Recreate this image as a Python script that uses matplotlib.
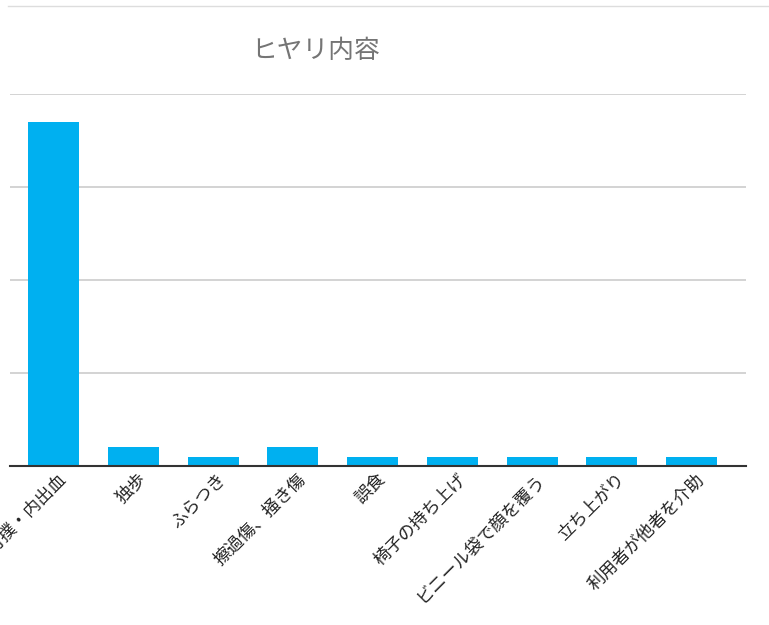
import matplotlib
matplotlib.use("Agg")
import matplotlib.pyplot as plt
import matplotlib.transforms as mtransforms
from matplotlib.lines import Line2D

plt.rcParams['font.family'] = ['Noto Sans CJK JP', 'DejaVu Sans']

categories = ['打撲・内出血', '独歩', 'ふらつき', '擦過傷、掻き傷', '誤食',
              '椅子の持ち上げ', 'ビニール袋で顔を覆う', '立ち上がり', '利用者が他者を介助']
counts = [37, 2, 1, 2, 1, 1, 1, 1, 1]
y_ticks = [0, 10, 20, 30, 40]

W, H = 769, 625
fig = plt.figure(figsize=(W / 100, H / 100), dpi=100)
ax = fig.add_axes([10 / W, 1 - 466 / H, (746 - 10) / W, (466 - 94) / H])

x = range(len(categories))
ax.bar(x, counts, width=0.64, color='#00B0F0', zorder=3)

ax.set_xlim(-0.545, 8.68)
ax.set_ylim(0, 40)
ax.set_yticks(y_ticks)
ax.yaxis.grid(True, color='#cccccc', linewidth=1.2, zorder=0)
ax.tick_params(axis='y', length=0, labelleft=False)
ax.tick_params(axis='x', length=0, pad=3)
ax.set_xticks(list(x))
ax.set_xticklabels(categories, rotation=45, ha='right', rotation_mode='anchor',
                   fontsize=12.5, color='#222222')
# nudge labels a bit to the right, like the original
shift = mtransforms.ScaledTranslation(4 / 100, 0, fig.dpi_scale_trans)
for lbl in ax.get_xticklabels():
    lbl.set_transform(lbl.get_transform() + shift)

for s in ['top', 'right', 'left']:
    ax.spines[s].set_visible(False)
ax.spines['bottom'].set_color('#333333')
ax.spines['bottom'].set_linewidth(1.5)
ax.spines['bottom'].set_zorder(4)

# thin border line at the top of the chart container
fig.add_artist(Line2D([8 / W, 1], [1 - 6 / H, 1 - 6 / H], color='#dddddd', linewidth=1))

fig.text(316 / W, 1 - 51 / H, 'ヒヤリ内容', ha='center', va='center',
         fontsize=18.5, color='#757575')

fig.savefig('out.png', dpi=100)
